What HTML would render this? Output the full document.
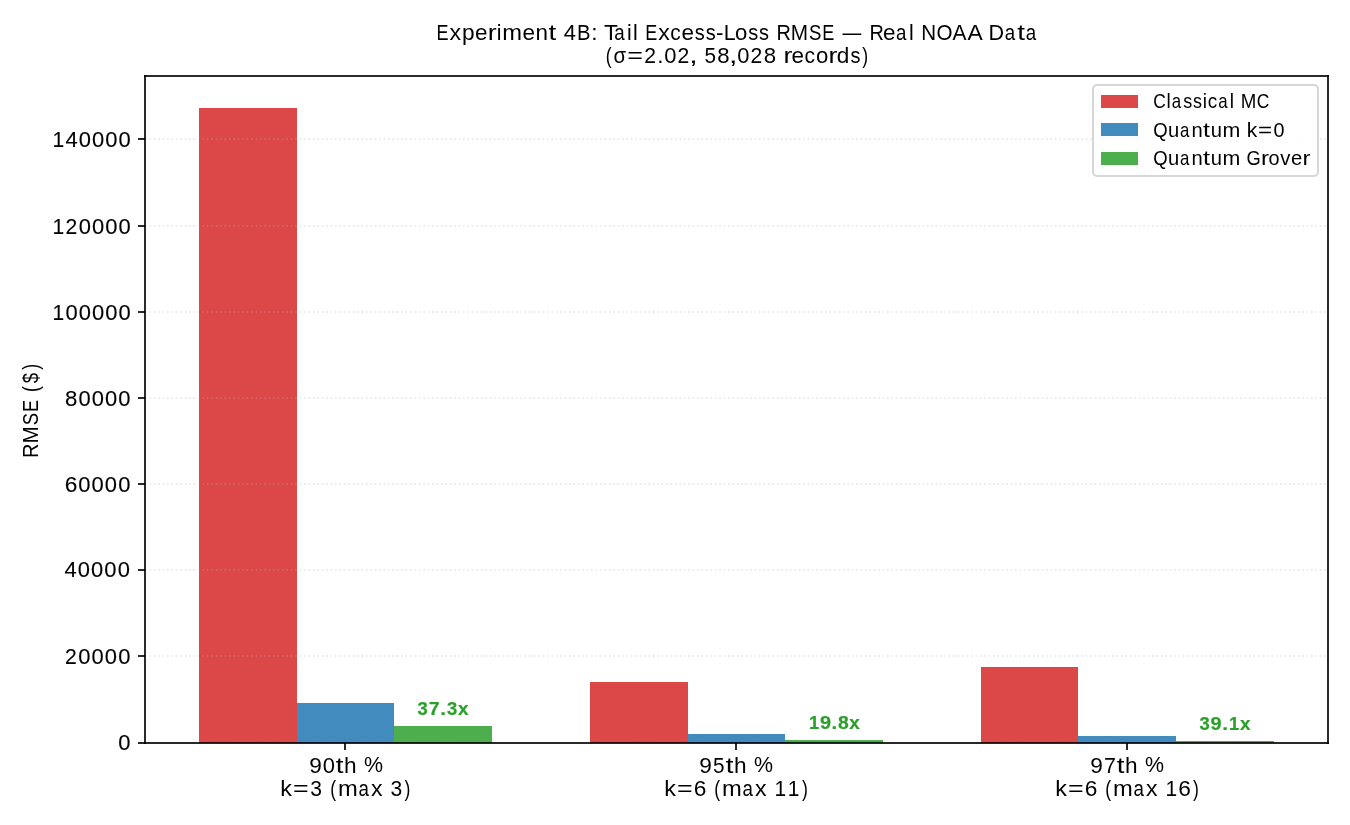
<!DOCTYPE html>
<html><head><meta charset="utf-8"><title>Experiment 4B: Tail Excess-Loss RMSE</title>
<style>html,body{margin:0;padding:0;background:#fff;overflow:hidden;}svg{display:block;will-change:transform;}text{font-family:"Liberation Sans",sans-serif;}</style></head><body>
<svg width="1350" height="825" viewBox="0 0 1350 825">
<rect x="0" y="0" width="1350" height="825" fill="#fff"/>
<g shape-rendering="crispEdges">
<rect x="199" y="108" width="98" height="635" fill="#dc4748"/>
<rect x="590" y="682" width="98" height="61" fill="#dc4748"/>
<rect x="981" y="667" width="97" height="76" fill="#dc4748"/>
<rect x="297" y="703" width="97" height="40" fill="#418bbf"/>
<rect x="688" y="734" width="97" height="9" fill="#418bbf"/>
<rect x="1078" y="736" width="98" height="7" fill="#418bbf"/>
<rect x="394" y="726" width="98" height="17" fill="#4cae4c"/>
<rect x="785" y="740" width="98" height="3" fill="#4cae4c"/>
<rect x="1176" y="741" width="98" height="2" fill="#4cae4c"/>
</g>
<g stroke="#b0b0b0" stroke-opacity="0.25" stroke-width="2" stroke-dasharray="1.6667 2.75">
<line x1="145" y1="139" x2="1328" y2="139"/>
<line x1="145" y1="226" x2="1328" y2="226"/>
<line x1="145" y1="312" x2="1328" y2="312"/>
<line x1="145" y1="398" x2="1328" y2="398"/>
<line x1="145" y1="484" x2="1328" y2="484"/>
<line x1="145" y1="570" x2="1328" y2="570"/>
<line x1="145" y1="656" x2="1328" y2="656"/>
<line x1="145" y1="743" x2="1328" y2="743"/>
</g>
<g fill="#000" fill-opacity="0.835" shape-rendering="crispEdges">
<rect x="144" y="75" width="1185" height="2"/>
<rect x="144" y="742" width="1185" height="2"/>
<rect x="144" y="75" width="2" height="669"/>
<rect x="1327" y="75" width="2" height="669"/>
<rect x="138" y="138" width="7" height="2"/>
<rect x="138" y="225" width="7" height="2"/>
<rect x="138" y="311" width="7" height="2"/>
<rect x="138" y="397" width="7" height="2"/>
<rect x="138" y="483" width="7" height="2"/>
<rect x="138" y="569" width="7" height="2"/>
<rect x="138" y="655" width="7" height="2"/>
<rect x="138" y="742" width="7" height="2"/>
<rect x="344" y="743" width="2" height="7"/>
<rect x="735" y="743" width="2" height="7"/>
<rect x="1126" y="743" width="2" height="7"/>
</g>
<rect x="1093" y="85" width="225" height="91" rx="4" ry="4" fill="#fff" fill-opacity="0.8" stroke="#d6d6d6" stroke-width="2"/>
<g shape-rendering="crispEdges">
<rect x="1101" y="95" width="37" height="13" fill="#dc4748"/>
<rect x="1101" y="123" width="37" height="13" fill="#418bbf"/>
<rect x="1101" y="152" width="37" height="13" fill="#4cae4c"/>
</g>
<g font-size="22.0">
<text><tspan x="436.56" y="40" textLength="12.04" lengthAdjust="spacingAndGlyphs">E</tspan><tspan x="449.53" y="40" textLength="11.56" lengthAdjust="spacingAndGlyphs">x</tspan><tspan x="461.97" y="40" textLength="12.61" lengthAdjust="spacingAndGlyphs">p</tspan><tspan x="474.99" y="40" textLength="12.51" lengthAdjust="spacingAndGlyphs">e</tspan><tspan x="487.76" y="40" textLength="8.89" lengthAdjust="spacingAndGlyphs">r</tspan><tspan x="496.76" y="40" textLength="4.73" lengthAdjust="spacingAndGlyphs">i</tspan><tspan x="502.34" y="40" textLength="19.77" lengthAdjust="spacingAndGlyphs">m</tspan><tspan x="522.55" y="40" textLength="12.51" lengthAdjust="spacingAndGlyphs">e</tspan><tspan x="535.60" y="40" textLength="12.49" lengthAdjust="spacingAndGlyphs">n</tspan><tspan x="548.57" y="40" textLength="7.74" lengthAdjust="spacingAndGlyphs">t</tspan> <tspan x="563.76" y="40" textLength="12.22" lengthAdjust="spacingAndGlyphs">4</tspan><tspan x="576.91" y="40" textLength="13.50" lengthAdjust="spacingAndGlyphs">B</tspan><tspan x="591.23" y="40" textLength="6.26" lengthAdjust="spacingAndGlyphs">:</tspan> <tspan x="603.95" y="40" textLength="13.88" lengthAdjust="spacingAndGlyphs">T</tspan><tspan x="614.23" y="40" textLength="10.42" lengthAdjust="spacingAndGlyphs">a</tspan><tspan x="627.10" y="40" textLength="4.73" lengthAdjust="spacingAndGlyphs">i</tspan><tspan x="632.89" y="40" textLength="4.73" lengthAdjust="spacingAndGlyphs">l</tspan> <tspan x="645.36" y="40" textLength="12.04" lengthAdjust="spacingAndGlyphs">E</tspan><tspan x="658.33" y="40" textLength="11.56" lengthAdjust="spacingAndGlyphs">x</tspan><tspan x="670.23" y="40" textLength="10.45" lengthAdjust="spacingAndGlyphs">c</tspan><tspan x="681.64" y="40" textLength="12.51" lengthAdjust="spacingAndGlyphs">e</tspan><tspan x="694.86" y="40" textLength="9.99" lengthAdjust="spacingAndGlyphs">s</tspan><tspan x="705.73" y="40" textLength="9.99" lengthAdjust="spacingAndGlyphs">s</tspan><tspan x="716.06" y="40" textLength="7.48" lengthAdjust="spacingAndGlyphs">-</tspan><tspan x="723.86" y="40" textLength="11.92" lengthAdjust="spacingAndGlyphs">L</tspan><tspan x="735.04" y="40" textLength="12.32" lengthAdjust="spacingAndGlyphs">o</tspan><tspan x="748.17" y="40" textLength="9.99" lengthAdjust="spacingAndGlyphs">s</tspan><tspan x="759.05" y="40" textLength="9.99" lengthAdjust="spacingAndGlyphs">s</tspan> <tspan x="776.39" y="40" textLength="14.39" lengthAdjust="spacingAndGlyphs">R</tspan><tspan x="790.83" y="40" textLength="17.30" lengthAdjust="spacingAndGlyphs">M</tspan><tspan x="809.03" y="40" textLength="12.39" lengthAdjust="spacingAndGlyphs">S</tspan><tspan x="822.31" y="40" textLength="12.04" lengthAdjust="spacingAndGlyphs">E</tspan> <tspan x="842.59" y="40" textLength="18.80" lengthAdjust="spacingAndGlyphs">—</tspan> <tspan x="869.50" y="40" textLength="14.39" lengthAdjust="spacingAndGlyphs">R</tspan><tspan x="882.91" y="40" textLength="12.51" lengthAdjust="spacingAndGlyphs">e</tspan><tspan x="896.01" y="40" textLength="10.42" lengthAdjust="spacingAndGlyphs">a</tspan><tspan x="908.88" y="40" textLength="4.73" lengthAdjust="spacingAndGlyphs">l</tspan> <tspan x="921.14" y="40" textLength="14.86" lengthAdjust="spacingAndGlyphs">N</tspan><tspan x="936.60" y="40" textLength="16.02" lengthAdjust="spacingAndGlyphs">O</tspan><tspan x="952.58" y="40" textLength="14.00" lengthAdjust="spacingAndGlyphs">A</tspan><tspan x="967.48" y="40" textLength="14.00" lengthAdjust="spacingAndGlyphs">A</tspan> <tspan x="988.55" y="40" textLength="15.57" lengthAdjust="spacingAndGlyphs">D</tspan><tspan x="1004.81" y="40" textLength="10.42" lengthAdjust="spacingAndGlyphs">a</tspan><tspan x="1017.28" y="40" textLength="7.74" lengthAdjust="spacingAndGlyphs">t</tspan><tspan x="1025.78" y="40" textLength="10.42" lengthAdjust="spacingAndGlyphs">a</tspan></text>
<text><tspan x="605.70" y="63" textLength="5.86" lengthAdjust="spacingAndGlyphs">(</tspan><tspan x="613.44" y="63" textLength="12.61" lengthAdjust="spacingAndGlyphs">σ</tspan><tspan x="627.27" y="63" textLength="15.68" lengthAdjust="spacingAndGlyphs">=</tspan><tspan x="644.33" y="63" textLength="11.77" lengthAdjust="spacingAndGlyphs">2</tspan><tspan x="657.32" y="63" textLength="6.26" lengthAdjust="spacingAndGlyphs">.</tspan><tspan x="664.30" y="63" textLength="12.21" lengthAdjust="spacingAndGlyphs">0</tspan><tspan x="677.52" y="63" textLength="11.77" lengthAdjust="spacingAndGlyphs">2</tspan><tspan x="689.22" y="63" textLength="8.44" lengthAdjust="spacingAndGlyphs">,</tspan> <tspan x="704.39" y="63" textLength="11.53" lengthAdjust="spacingAndGlyphs">5</tspan><tspan x="717.35" y="63" textLength="12.35" lengthAdjust="spacingAndGlyphs">8</tspan><tspan x="729.06" y="63" textLength="8.44" lengthAdjust="spacingAndGlyphs">,</tspan><tspan x="737.33" y="63" textLength="12.21" lengthAdjust="spacingAndGlyphs">0</tspan><tspan x="750.56" y="63" textLength="11.77" lengthAdjust="spacingAndGlyphs">2</tspan><tspan x="763.83" y="63" textLength="12.35" lengthAdjust="spacingAndGlyphs">8</tspan> <tspan x="783.41" y="63" textLength="8.89" lengthAdjust="spacingAndGlyphs">r</tspan><tspan x="791.57" y="63" textLength="12.51" lengthAdjust="spacingAndGlyphs">e</tspan><tspan x="804.48" y="63" textLength="10.45" lengthAdjust="spacingAndGlyphs">c</tspan><tspan x="815.92" y="63" textLength="12.32" lengthAdjust="spacingAndGlyphs">o</tspan><tspan x="828.59" y="63" textLength="8.89" lengthAdjust="spacingAndGlyphs">r</tspan><tspan x="836.87" y="63" textLength="12.59" lengthAdjust="spacingAndGlyphs">d</tspan><tspan x="850.50" y="63" textLength="9.99" lengthAdjust="spacingAndGlyphs">s</tspan><tspan x="862.37" y="63" textLength="5.86" lengthAdjust="spacingAndGlyphs">)</tspan></text>
</g>
<g font-size="22.6" stroke="#000" stroke-width="0.12">
<text><tspan x="118.14" y="750" textLength="12.21" lengthAdjust="spacingAndGlyphs">0</tspan></text>
<text><tspan x="64.96" y="664" textLength="11.77" lengthAdjust="spacingAndGlyphs">2</tspan><tspan x="78.30" y="664" textLength="12.21" lengthAdjust="spacingAndGlyphs">0</tspan><tspan x="91.58" y="664" textLength="12.21" lengthAdjust="spacingAndGlyphs">0</tspan><tspan x="104.86" y="664" textLength="12.21" lengthAdjust="spacingAndGlyphs">0</tspan><tspan x="118.14" y="664" textLength="12.21" lengthAdjust="spacingAndGlyphs">0</tspan></text>
<text><tspan x="64.51" y="577" textLength="12.22" lengthAdjust="spacingAndGlyphs">4</tspan><tspan x="77.80" y="577" textLength="12.21" lengthAdjust="spacingAndGlyphs">0</tspan><tspan x="91.08" y="577" textLength="12.21" lengthAdjust="spacingAndGlyphs">0</tspan><tspan x="104.36" y="577" textLength="12.21" lengthAdjust="spacingAndGlyphs">0</tspan><tspan x="117.64" y="577" textLength="12.21" lengthAdjust="spacingAndGlyphs">0</tspan></text>
<text><tspan x="64.80" y="492" textLength="12.64" lengthAdjust="spacingAndGlyphs">6</tspan><tspan x="78.30" y="492" textLength="12.21" lengthAdjust="spacingAndGlyphs">0</tspan><tspan x="91.58" y="492" textLength="12.21" lengthAdjust="spacingAndGlyphs">0</tspan><tspan x="104.86" y="492" textLength="12.21" lengthAdjust="spacingAndGlyphs">0</tspan><tspan x="118.14" y="492" textLength="12.21" lengthAdjust="spacingAndGlyphs">0</tspan></text>
<text><tspan x="65.07" y="406" textLength="12.35" lengthAdjust="spacingAndGlyphs">8</tspan><tspan x="78.42" y="406" textLength="12.21" lengthAdjust="spacingAndGlyphs">0</tspan><tspan x="91.70" y="406" textLength="12.21" lengthAdjust="spacingAndGlyphs">0</tspan><tspan x="104.98" y="406" textLength="12.21" lengthAdjust="spacingAndGlyphs">0</tspan><tspan x="118.27" y="406" textLength="12.21" lengthAdjust="spacingAndGlyphs">0</tspan></text>
<text><tspan x="52.38" y="320" textLength="11.67" lengthAdjust="spacingAndGlyphs">1</tspan><tspan x="65.48" y="320" textLength="12.21" lengthAdjust="spacingAndGlyphs">0</tspan><tspan x="78.77" y="320" textLength="12.21" lengthAdjust="spacingAndGlyphs">0</tspan><tspan x="92.05" y="320" textLength="12.21" lengthAdjust="spacingAndGlyphs">0</tspan><tspan x="105.33" y="320" textLength="12.21" lengthAdjust="spacingAndGlyphs">0</tspan><tspan x="118.61" y="320" textLength="12.21" lengthAdjust="spacingAndGlyphs">0</tspan></text>
<text><tspan x="52.38" y="234" textLength="11.67" lengthAdjust="spacingAndGlyphs">1</tspan><tspan x="65.43" y="234" textLength="11.77" lengthAdjust="spacingAndGlyphs">2</tspan><tspan x="78.77" y="234" textLength="12.21" lengthAdjust="spacingAndGlyphs">0</tspan><tspan x="92.05" y="234" textLength="12.21" lengthAdjust="spacingAndGlyphs">0</tspan><tspan x="105.33" y="234" textLength="12.21" lengthAdjust="spacingAndGlyphs">0</tspan><tspan x="118.61" y="234" textLength="12.21" lengthAdjust="spacingAndGlyphs">0</tspan></text>
<text><tspan x="52.38" y="147" textLength="11.67" lengthAdjust="spacingAndGlyphs">1</tspan><tspan x="65.48" y="147" textLength="12.22" lengthAdjust="spacingAndGlyphs">4</tspan><tspan x="78.77" y="147" textLength="12.21" lengthAdjust="spacingAndGlyphs">0</tspan><tspan x="92.05" y="147" textLength="12.21" lengthAdjust="spacingAndGlyphs">0</tspan><tspan x="105.33" y="147" textLength="12.21" lengthAdjust="spacingAndGlyphs">0</tspan><tspan x="118.61" y="147" textLength="12.21" lengthAdjust="spacingAndGlyphs">0</tspan></text>
</g>
<g font-size="22.0" transform="translate(37.9 458.4) rotate(-90)">
<text><tspan x="0.41" y="0" textLength="14.39" lengthAdjust="spacingAndGlyphs">R</tspan><tspan x="14.85" y="0" textLength="17.30" lengthAdjust="spacingAndGlyphs">M</tspan><tspan x="33.05" y="0" textLength="12.39" lengthAdjust="spacingAndGlyphs">S</tspan><tspan x="46.33" y="0" textLength="12.04" lengthAdjust="spacingAndGlyphs">E</tspan> <tspan x="66.29" y="0" textLength="5.86" lengthAdjust="spacingAndGlyphs">(</tspan><tspan x="75.27" y="0" textLength="10.29" lengthAdjust="spacingAndGlyphs">$</tspan><tspan x="88.58" y="0" textLength="5.86" lengthAdjust="spacingAndGlyphs">)</tspan></text>
</g>
<g font-size="22.0">
<text><tspan x="309.25" y="773" textLength="12.62" lengthAdjust="spacingAndGlyphs">9</tspan><tspan x="322.80" y="773" textLength="12.21" lengthAdjust="spacingAndGlyphs">0</tspan><tspan x="335.70" y="773" textLength="7.74" lengthAdjust="spacingAndGlyphs">t</tspan><tspan x="344.07" y="773" textLength="12.58" lengthAdjust="spacingAndGlyphs">h</tspan> <tspan x="364.00" y="772" textLength="19.02" lengthAdjust="spacingAndGlyphs">%</tspan></text>
<text><tspan x="280.32" y="796" textLength="11.65" lengthAdjust="spacingAndGlyphs">k</tspan><tspan x="292.99" y="796" textLength="15.68" lengthAdjust="spacingAndGlyphs">=</tspan><tspan x="310.36" y="796" textLength="11.73" lengthAdjust="spacingAndGlyphs">3</tspan> <tspan x="330.19" y="796" textLength="5.86" lengthAdjust="spacingAndGlyphs">(</tspan><tspan x="337.96" y="796" textLength="19.77" lengthAdjust="spacingAndGlyphs">m</tspan><tspan x="358.43" y="796" textLength="10.42" lengthAdjust="spacingAndGlyphs">a</tspan><tspan x="371.11" y="796" textLength="11.56" lengthAdjust="spacingAndGlyphs">x</tspan> <tspan x="390.54" y="796" textLength="11.73" lengthAdjust="spacingAndGlyphs">3</tspan><tspan x="404.60" y="796" textLength="5.86" lengthAdjust="spacingAndGlyphs">)</tspan></text>
<text><tspan x="699.25" y="773" textLength="12.62" lengthAdjust="spacingAndGlyphs">9</tspan><tspan x="713.06" y="773" textLength="11.53" lengthAdjust="spacingAndGlyphs">5</tspan><tspan x="725.70" y="773" textLength="7.74" lengthAdjust="spacingAndGlyphs">t</tspan><tspan x="734.07" y="773" textLength="12.58" lengthAdjust="spacingAndGlyphs">h</tspan> <tspan x="754.00" y="772" textLength="19.02" lengthAdjust="spacingAndGlyphs">%</tspan></text>
<text><tspan x="664.32" y="796" textLength="11.65" lengthAdjust="spacingAndGlyphs">k</tspan><tspan x="676.99" y="796" textLength="15.68" lengthAdjust="spacingAndGlyphs">=</tspan><tspan x="693.88" y="796" textLength="12.64" lengthAdjust="spacingAndGlyphs">6</tspan> <tspan x="714.19" y="796" textLength="5.86" lengthAdjust="spacingAndGlyphs">(</tspan><tspan x="721.96" y="796" textLength="19.77" lengthAdjust="spacingAndGlyphs">m</tspan><tspan x="742.43" y="796" textLength="10.42" lengthAdjust="spacingAndGlyphs">a</tspan><tspan x="755.11" y="796" textLength="11.56" lengthAdjust="spacingAndGlyphs">x</tspan> <tspan x="774.45" y="796" textLength="11.67" lengthAdjust="spacingAndGlyphs">1</tspan><tspan x="787.73" y="796" textLength="11.67" lengthAdjust="spacingAndGlyphs">1</tspan><tspan x="801.88" y="796" textLength="5.86" lengthAdjust="spacingAndGlyphs">)</tspan></text>
<text><tspan x="1090.25" y="773" textLength="12.62" lengthAdjust="spacingAndGlyphs">9</tspan><tspan x="1103.89" y="773" textLength="11.95" lengthAdjust="spacingAndGlyphs">7</tspan><tspan x="1116.70" y="773" textLength="7.74" lengthAdjust="spacingAndGlyphs">t</tspan><tspan x="1125.07" y="773" textLength="12.58" lengthAdjust="spacingAndGlyphs">h</tspan> <tspan x="1145.00" y="772" textLength="19.02" lengthAdjust="spacingAndGlyphs">%</tspan></text>
<text><tspan x="1055.32" y="796" textLength="11.65" lengthAdjust="spacingAndGlyphs">k</tspan><tspan x="1067.99" y="796" textLength="15.68" lengthAdjust="spacingAndGlyphs">=</tspan><tspan x="1084.88" y="796" textLength="12.64" lengthAdjust="spacingAndGlyphs">6</tspan> <tspan x="1105.19" y="796" textLength="5.86" lengthAdjust="spacingAndGlyphs">(</tspan><tspan x="1112.96" y="796" textLength="19.77" lengthAdjust="spacingAndGlyphs">m</tspan><tspan x="1133.43" y="796" textLength="10.42" lengthAdjust="spacingAndGlyphs">a</tspan><tspan x="1146.11" y="796" textLength="11.56" lengthAdjust="spacingAndGlyphs">x</tspan> <tspan x="1165.45" y="796" textLength="11.67" lengthAdjust="spacingAndGlyphs">1</tspan><tspan x="1178.34" y="796" textLength="12.64" lengthAdjust="spacingAndGlyphs">6</tspan><tspan x="1192.88" y="796" textLength="5.86" lengthAdjust="spacingAndGlyphs">)</tspan></text>
</g>
<g font-size="19.8">
<text><tspan x="1153.17" y="108" textLength="12.57" lengthAdjust="spacingAndGlyphs">C</tspan><tspan x="1166.57" y="108" textLength="4.26" lengthAdjust="spacingAndGlyphs">l</tspan><tspan x="1171.71" y="108" textLength="9.38" lengthAdjust="spacingAndGlyphs">a</tspan><tspan x="1183.31" y="108" textLength="8.99" lengthAdjust="spacingAndGlyphs">s</tspan><tspan x="1193.08" y="108" textLength="8.99" lengthAdjust="spacingAndGlyphs">s</tspan><tspan x="1202.81" y="108" textLength="4.26" lengthAdjust="spacingAndGlyphs">i</tspan><tspan x="1207.77" y="108" textLength="9.41" lengthAdjust="spacingAndGlyphs">c</tspan><tspan x="1218.26" y="108" textLength="9.38" lengthAdjust="spacingAndGlyphs">a</tspan><tspan x="1229.81" y="108" textLength="4.26" lengthAdjust="spacingAndGlyphs">l</tspan> <tspan x="1240.81" y="108" textLength="15.57" lengthAdjust="spacingAndGlyphs">M</tspan><tspan x="1256.85" y="108" textLength="12.57" lengthAdjust="spacingAndGlyphs">C</tspan></text>
<text><tspan x="1153.17" y="137" textLength="14.42" lengthAdjust="spacingAndGlyphs">Q</tspan><tspan x="1168.04" y="137" textLength="11.24" lengthAdjust="spacingAndGlyphs">u</tspan><tspan x="1180.05" y="137" textLength="9.38" lengthAdjust="spacingAndGlyphs">a</tspan><tspan x="1191.49" y="137" textLength="11.24" lengthAdjust="spacingAndGlyphs">n</tspan><tspan x="1203.14" y="137" textLength="6.96" lengthAdjust="spacingAndGlyphs">t</tspan><tspan x="1210.65" y="137" textLength="11.24" lengthAdjust="spacingAndGlyphs">u</tspan><tspan x="1222.53" y="137" textLength="17.80" lengthAdjust="spacingAndGlyphs">m</tspan> <tspan x="1246.77" y="137" textLength="10.48" lengthAdjust="spacingAndGlyphs">k</tspan><tspan x="1258.14" y="137" textLength="14.11" lengthAdjust="spacingAndGlyphs">=</tspan><tspan x="1273.51" y="137" textLength="10.99" lengthAdjust="spacingAndGlyphs">0</tspan></text>
<text><tspan x="1153.17" y="165" textLength="14.42" lengthAdjust="spacingAndGlyphs">Q</tspan><tspan x="1168.04" y="165" textLength="11.24" lengthAdjust="spacingAndGlyphs">u</tspan><tspan x="1180.05" y="165" textLength="9.38" lengthAdjust="spacingAndGlyphs">a</tspan><tspan x="1191.49" y="165" textLength="11.24" lengthAdjust="spacingAndGlyphs">n</tspan><tspan x="1203.14" y="165" textLength="6.96" lengthAdjust="spacingAndGlyphs">t</tspan><tspan x="1210.65" y="165" textLength="11.24" lengthAdjust="spacingAndGlyphs">u</tspan><tspan x="1222.53" y="165" textLength="17.80" lengthAdjust="spacingAndGlyphs">m</tspan> <tspan x="1246.61" y="165" textLength="14.22" lengthAdjust="spacingAndGlyphs">G</tspan><tspan x="1261.11" y="165" textLength="8.00" lengthAdjust="spacingAndGlyphs">r</tspan><tspan x="1268.54" y="165" textLength="11.09" lengthAdjust="spacingAndGlyphs">o</tspan><tspan x="1280.30" y="165" textLength="10.12" lengthAdjust="spacingAndGlyphs">v</tspan><tspan x="1291.08" y="165" textLength="11.26" lengthAdjust="spacingAndGlyphs">e</tspan><tspan x="1302.55" y="165" textLength="8.00" lengthAdjust="spacingAndGlyphs">r</tspan></text>
</g>
<g font-size="17.6" fill="#2ca02c" font-weight="bold" stroke="#2ca02c" stroke-width="0.2">
<text><tspan x="417.57" y="715" textLength="10.24" lengthAdjust="spacingAndGlyphs">3</tspan><tspan x="428.72" y="715" textLength="10.85" lengthAdjust="spacingAndGlyphs">7</tspan><tspan x="440.30" y="715" textLength="5.77" lengthAdjust="spacingAndGlyphs">.</tspan><tspan x="447.02" y="715" textLength="10.24" lengthAdjust="spacingAndGlyphs">3</tspan><tspan x="458.02" y="715" textLength="10.51" lengthAdjust="spacingAndGlyphs">x</tspan></text>
<text><tspan x="808.91" y="729" textLength="10.24" lengthAdjust="spacingAndGlyphs">1</tspan><tspan x="819.93" y="729" textLength="11.10" lengthAdjust="spacingAndGlyphs">9</tspan><tspan x="831.61" y="729" textLength="5.77" lengthAdjust="spacingAndGlyphs">.</tspan><tspan x="838.04" y="729" textLength="10.75" lengthAdjust="spacingAndGlyphs">8</tspan><tspan x="849.33" y="729" textLength="10.51" lengthAdjust="spacingAndGlyphs">x</tspan></text>
<text><tspan x="1199.57" y="730" textLength="10.24" lengthAdjust="spacingAndGlyphs">3</tspan><tspan x="1210.61" y="730" textLength="11.10" lengthAdjust="spacingAndGlyphs">9</tspan><tspan x="1222.30" y="730" textLength="5.77" lengthAdjust="spacingAndGlyphs">.</tspan><tspan x="1229.05" y="730" textLength="10.24" lengthAdjust="spacingAndGlyphs">1</tspan><tspan x="1240.02" y="730" textLength="10.51" lengthAdjust="spacingAndGlyphs">x</tspan></text>
</g>
</svg></body></html>
